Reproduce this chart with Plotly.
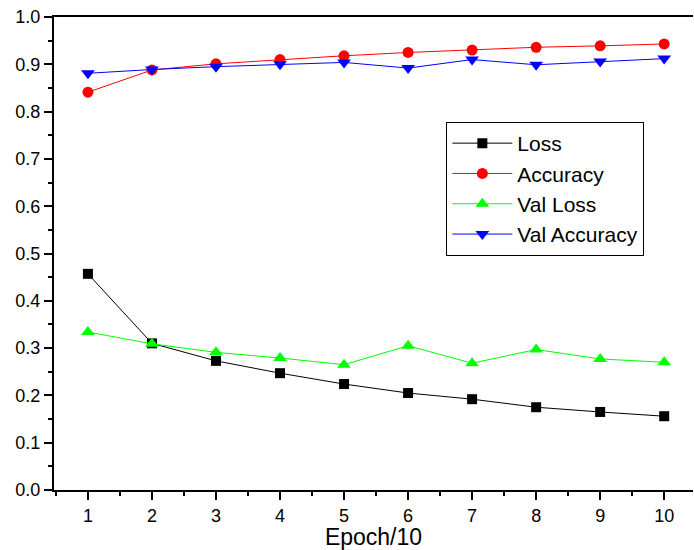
import plotly.graph_objects as go

epochs = [1, 2, 3, 4, 5, 6, 7, 8, 9, 10]
loss = [0.457, 0.310, 0.273, 0.247, 0.224, 0.205, 0.192, 0.175, 0.165, 0.156]
accuracy = [0.841, 0.888, 0.901, 0.910, 0.918, 0.925, 0.930, 0.936, 0.939, 0.943]
val_loss = [0.334, 0.309, 0.291, 0.279, 0.265, 0.305, 0.268, 0.297, 0.277, 0.270]
val_accuracy = [0.881, 0.889, 0.895, 0.900, 0.904, 0.892, 0.910, 0.899, 0.906, 0.912]
y_ticks = [0.0, 0.1, 0.2, 0.3, 0.4, 0.5, 0.6, 0.7, 0.8, 0.9, 1.0]

fig = go.Figure()
series = [
    ("Loss", loss, "#000000", "square", 10),
    ("Accuracy", accuracy, "#ff0000", "circle", 11),
    ("Val Loss", val_loss, "#00ff00", "triangle-up", 12),
    ("Val Accuracy", val_accuracy, "#0000ff", "triangle-down", 12),
]
for name, vals, color, sym, size in series:
    fig.add_trace(go.Scatter(
        x=epochs, y=vals, name=name, mode="lines+markers",
        line=dict(color=color, width=1),
        marker=dict(symbol=sym, size=size, color=color, line=dict(width=0)),
    ))

fig.update_layout(
    width=694, height=550,
    margin=dict(l=54, r=1, t=17, b=60, autoexpand=False),
    paper_bgcolor="white", plot_bgcolor="white",
    font=dict(family="Liberation Sans, Arial, sans-serif", color="black"),
    showlegend=True,
    legend=dict(
        x=0.614, y=0.778, xanchor="left", yanchor="top",
        bordercolor="black", borderwidth=1, bgcolor="white",
        font=dict(size=21), tracegroupgap=0, itemwidth=60,
        entrywidth=150,
    ),
)
fig.update_xaxes(
    range=[0.47, 10.45], tickmode="array", tickvals=epochs,
    ticktext=[str(e) for e in epochs],
    ticks="outside", ticklen=8, tickwidth=1.5, tickcolor="black",
    minor=dict(ticks="outside", ticklen=4, tickwidth=1.5, tickcolor="black", dtick=0.5, tick0=0.5),
    showline=True, linecolor="black", linewidth=2, mirror=True,
    showgrid=False, zeroline=False, automargin=False,
    tickfont=dict(size=18),
    title=dict(text="Epoch/10", font=dict(size=23), standoff=0),
)
fig.update_yaxes(
    range=[0, 1.0], tickmode="array", tickvals=y_ticks,
    ticktext=[f"{v:.1f}" for v in y_ticks],
    ticks="outside", ticklen=8, tickwidth=1.5, tickcolor="black",
    minor=dict(ticks="outside", ticklen=4, tickwidth=1.5, tickcolor="black", dtick=0.05, tick0=0),
    showline=True, linecolor="black", linewidth=2, mirror=False,
    showgrid=False, zeroline=False, automargin=False,
    tickfont=dict(size=18),
)

fig.write_html(
    "out.html",
    config={"displayModeBar": False},
    post_script="document.body.style.margin='0';document.body.style.padding='0';document.body.style.overflow='hidden';",
)
